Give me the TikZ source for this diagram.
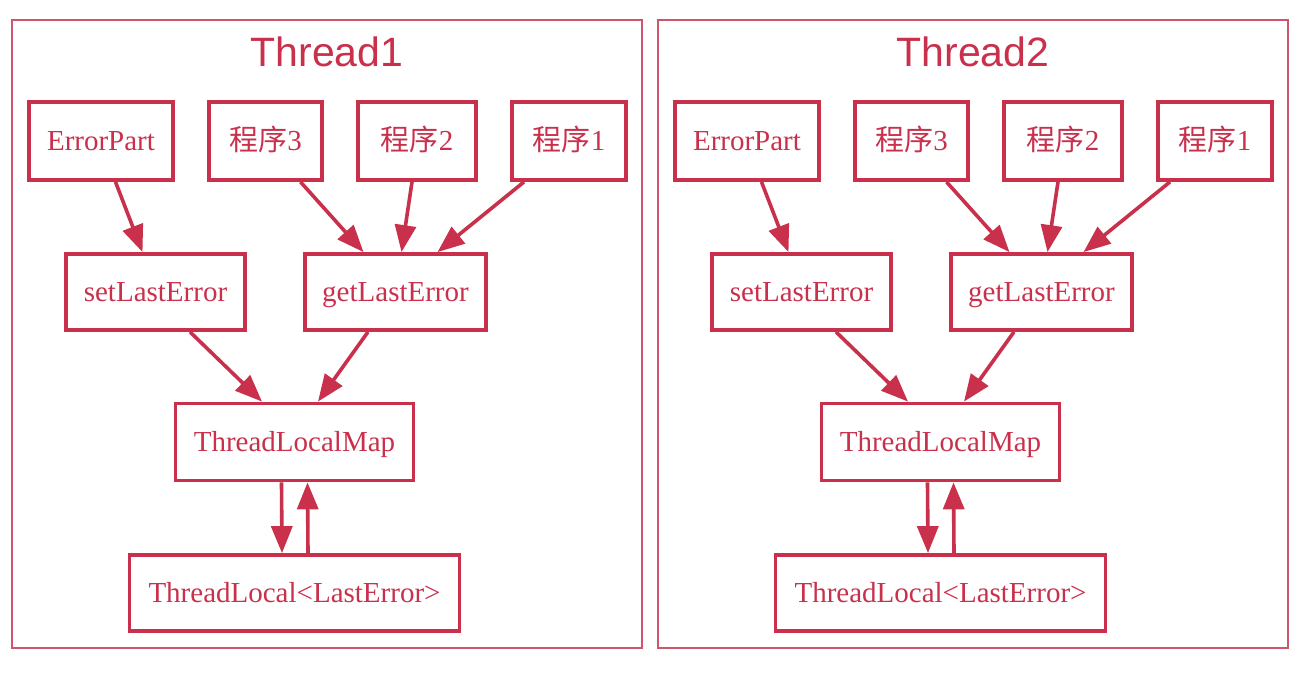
\documentclass[tikz,border=0pt]{standalone}
\usepackage{fontspec}
\setmainfont{Liberation Serif}
\newfontfamily\cjk{Noto Sans CJK SC}
\newfontfamily\titlefont{Liberation Sans}
\usetikzlibrary{arrows.meta}
\definecolor{boxred}{RGB}{201,48,76}
\definecolor{framered}{RGB}{205,85,108}
\tikzset{
  box/.style={draw=boxred, line width=3.8pt, text=boxred, inner sep=0pt,
    font=\fontsize{29}{32}\selectfont, text height=18.5pt, text depth=0pt},
  arr/.style={draw=boxred, line width=3.6pt, -{Triangle[length=27pt,width=21pt]}},
  frame/.style={draw=framered, line width=2pt, inner sep=0pt},
  ttl/.style={text=boxred, font=\titlefont\fontsize{41}{46}\selectfont, inner sep=0pt, anchor=base}
}
\begin{document}
\begin{tikzpicture}[x=1pt,y=-1pt]
\useasboundingbox (0,0) rectangle (1304,676);
\foreach \t in {1,2} {
\begin{scope}[xshift={(\t-1)*646pt}]
  \node[frame, minimum width=630pt, minimum height=628pt] (fr\t) at (327,334) {};
  \node[ttl] (title\t) at (327,66.5) {Thread\t};
  \node[box, minimum width=144pt, minimum height=78pt] (e\t) at (101,141) {ErrorPart};
  \node[box, minimum width=113pt, minimum height=78pt] (pc\t) at (265.5,141) {{\cjk 程序}3};
  \node[box, minimum width=118pt, minimum height=78pt] (pb\t) at (417,141) {{\cjk 程序}2};
  \node[box, minimum width=114pt, minimum height=78pt] (pa\t) at (569,141) {{\cjk 程序}1};
  \node[box, minimum width=179pt, minimum height=76pt] (s\t) at (155.5,292) {setLastError};
  \node[box, minimum width=181pt, minimum height=76pt] (g\t) at (395.5,292) {getLastError};
  \node[box, minimum width=238pt, minimum height=77pt] (m\t) at (294.5,442) {ThreadLocalMap};
  \node[box, minimum width=330pt, minimum height=76pt] (l\t) at (294.5,593) {ThreadLocal<LastError>};
  \draw[arr] ([xshift=14.5pt]e\t.south) -- ([xshift=-13pt]s\t.north);
  \draw[arr] ([xshift=35pt]pc\t.south) -- ([xshift=-32pt]g\t.north);
  \draw[arr] ([xshift=-5pt]pb\t.south) -- ([xshift=6pt]g\t.north);
  \draw[arr] ([xshift=-45pt]pa\t.south) -- ([xshift=42pt]g\t.north);
  \draw[arr] ([xshift=34.5pt]s\t.south) -- ([xshift=-32.5pt]m\t.north);
  \draw[arr] ([xshift=-27.5pt]g\t.south) -- ([xshift=23.5pt]m\t.north);
  \draw[arr] ([xshift=-13pt]m\t.south) -- ([xshift=-12.5pt]l\t.north);
  \draw[arr] ([xshift=13.5pt]l\t.north) -- ([xshift=13pt]m\t.south);
\end{scope}
}
\end{tikzpicture}
\end{document}
